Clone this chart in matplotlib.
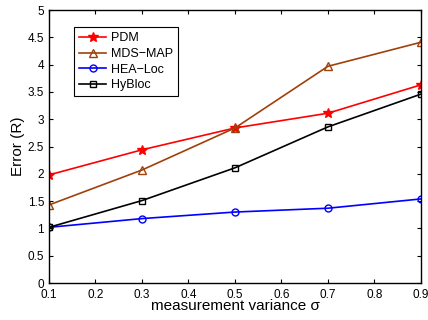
import matplotlib

matplotlib.use("Agg")
import matplotlib.pyplot as plt

plt.rcParams["font.family"] = ["Liberation Sans", "DejaVu Sans"]

sigma = [0.1, 0.3, 0.5, 0.7, 0.9]
pdm = [1.98, 2.44, 2.84, 3.11, 3.63]
mds_map = [1.43, 2.07, 2.84, 3.97, 4.41]
hea_loc = [1.02, 1.18, 1.30, 1.37, 1.54]
hybloc = [1.02, 1.51, 2.11, 2.86, 3.46]

fig = plt.figure(figsize=(4.28, 3.2), dpi=100)
ax = fig.add_axes([0.1145, 0.1156, 0.869, 0.853])

ax.plot(sigma, pdm, "*-", color="#ff0000", lw=1.2, ms=7.5, label="PDM")
ax.plot(sigma, mds_map, "^-", color="#a0400a", lw=1.2, ms=6, mfc="none", label="MDS\u2212MAP")
ax.plot(sigma, hea_loc, "o-", color="#0000ff", lw=1.2, ms=5, mfc="none", label="HEA\u2212Loc")
ax.plot(sigma, hybloc, "s-", color="black", lw=1.2, ms=4, mfc="none", label="HyBloc")

ax.set_xlim(0.1, 0.9)
ax.set_ylim(0, 5)
ax.set_xticks([0.1, 0.2, 0.3, 0.4, 0.5, 0.6, 0.7, 0.8, 0.9])
ax.set_yticks([0, 0.5, 1, 1.5, 2, 2.5, 3, 3.5, 4, 4.5, 5])
ax.set_yticklabels(["0", "0.5", "1", "1.5", "2", "2.5", "3", "3.5", "4", "4.5", "5"])
ax.tick_params(direction="in", labelsize=8.5, top=True, right=True, length=3)
ax.tick_params(axis="x", pad=4)
ax.set_xlabel("measurement variance σ", fontsize=11, labelpad=-1)
ax.set_ylabel("Error (R)", fontsize=11, labelpad=2)
for s in ax.spines.values():
    s.set_linewidth(1.0)

leg = ax.legend(loc="upper left", bbox_to_anchor=(0.05, 0.96), fontsize=9,
                fancybox=False, edgecolor="black", framealpha=1,
                handlelength=2.2, borderpad=0.4, labelspacing=0.3, handletextpad=0.4)
leg.get_frame().set_linewidth(0.8)

fig.savefig("out.png", dpi=100)
